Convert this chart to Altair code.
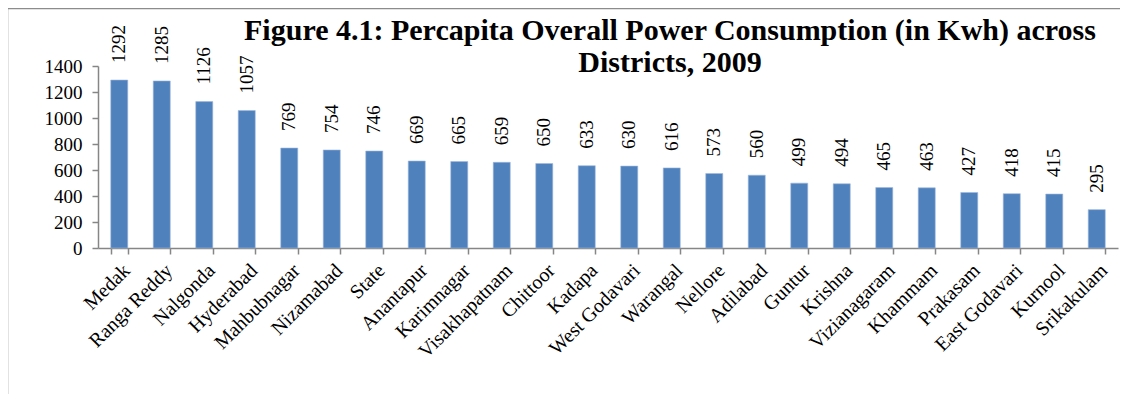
import altair as alt
import pandas as pd

districts = ["Medak", "Ranga Reddy", "Nalgonda", "Hyderabad", "Mahbubnagar", "Nizamabad",
             "State", "Anantapur", "Karimnagar", "Visakhapatnam", "Chittoor", "Kadapa",
             "West Godavari", "Warangal", "Nellore", "Adilabad", "Guntur", "Krishna",
             "Vizianagaram", "Khammam", "Prakasam", "East Godavari", "Kurnool", "Srikakulam"]
values = [1292, 1285, 1126, 1057, 769, 754, 746, 669, 665, 659, 650, 633, 630, 616,
          573, 560, 499, 494, 465, 463, 427, 418, 415, 295]
y_ticks = [0, 200, 400, 600, 800, 1000, 1200, 1400]
title_lines = "Figure 4.1: Percapita Overall Power Consumption (in Kwh) across\nDistricts, 2009"

df = pd.DataFrame({"district": districts, "value": values})
one = pd.DataFrame({"k": [0]})

W, H = 1020, 182
FONT = "Liberation Serif"
AX = "#868686"

x_scale = alt.Scale(paddingInner=0.6, paddingOuter=0.3)
y_scale = alt.Scale(domain=[0, 1400], nice=False)

x_axis = alt.Axis(labelAngle=-45, labelAlign="right", labelBaseline="top",
                  labelFont=FONT, labelFontSize=20, labelColor="black",
                  labelPadding=6, tickBand="extent", tickSize=6,
                  tickColor=AX, domainColor=AX, domainWidth=1.5, tickWidth=1.5,
                  labelOverlap=False, labelLimit=300, title=None)
y_axis = alt.Axis(values=y_ticks, format="d", labelOverlap=False, grid=False,
                  labelFont=FONT, labelFontSize=19, labelBound=False,
                  labelColor="black", labelPadding=10, tickSize=6,
                  tickColor=AX, domainColor=AX, domainWidth=1.5, tickWidth=1.5, title=None)

x_enc = alt.X("district:N", sort=districts, scale=x_scale, axis=x_axis)
y_enc = alt.Y("value:Q", scale=y_scale, axis=y_axis)

bars = alt.Chart(df).mark_bar(color="#4F81BD", stroke="#9DB9DE", strokeWidth=0.6).encode(
    x=x_enc, y=y_enc)

labels = alt.Chart(df).mark_text(angle=270, align="left", baseline="middle", dx=17,
                                 font=FONT, fontSize=19, color="black").encode(
    x=x_enc, y=y_enc,
    text=alt.Text("value:Q", format="d"))

title = alt.Chart(one).mark_text(font=FONT, fontSize=30, fontWeight="bold", color="black",
                                 align="center", baseline="alphabetic", lineBreak="\n",
                                 lineHeight=32).encode(
    x=alt.value(572), y=alt.value(-26), text=alt.value(title_lines))

frame_top = alt.Chart(one).mark_rule(color="#8c8c8c", strokeWidth=1.5).encode(
    x=alt.value(-90), x2=alt.value(W + 10), y=alt.value(-57.5))
frame_left = alt.Chart(one).mark_rule(color="#8c8c8c", strokeWidth=1.5).encode(
    x=alt.value(-90.5), y=alt.value(-58), y2=alt.value(H + 160))

chart = alt.layer(bars, labels, frame_top, frame_left, title).properties(
    width=W, height=H,
    autosize=alt.AutoSizeParams(type="none"),
    padding={"left": 90, "top": 58, "right": 2, "bottom": 146},
).configure_view(stroke=None).configure_text(font=FONT)

chart.save("out.html", embed_options={"renderer": "svg", "actions": False})
